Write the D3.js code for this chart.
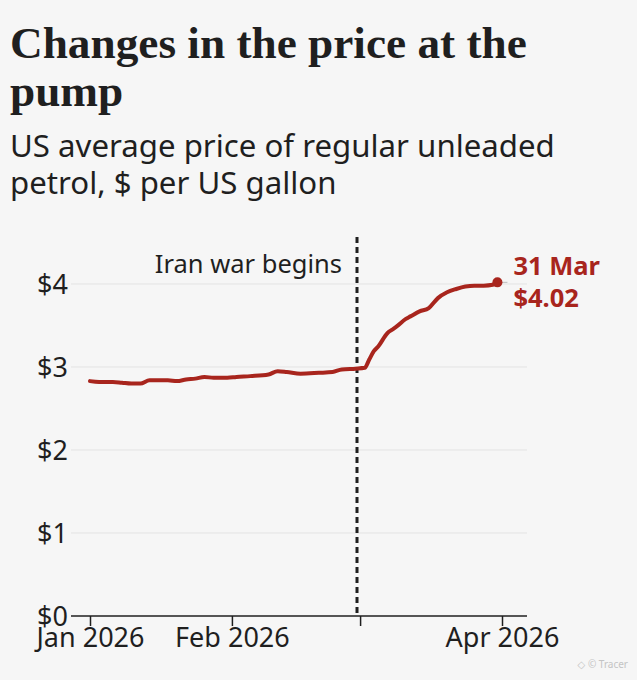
<!DOCTYPE html>
<html>
<head>
<meta charset="utf-8">
<script src="https://cdn.jsdelivr.net/npm/d3@7"></script>
<style>
  html, body { margin: 0; padding: 0; background: #f6f6f6; }
  svg { display: block; }
</style>
</head>
<body>
<div id="wrapper"></div>
<script>
// Daily-ish readings of the US average pump price.
const dates = [
  "2026-01-01", "2026-01-03", "2026-01-06", "2026-01-08", "2026-01-10", "2026-01-12",
  "2026-01-14", "2026-01-16", "2026-01-18", "2026-01-20", "2026-01-22", "2026-01-24",
  "2026-01-26", "2026-01-28", "2026-01-31", "2026-02-02", "2026-02-05", "2026-02-09",
  "2026-02-11", "2026-02-13", "2026-02-16", "2026-02-20", "2026-02-23", "2026-02-25",
  "2026-02-28", "2026-03-02", "2026-03-03", "2026-03-04", "2026-03-05", "2026-03-07",
  "2026-03-08", "2026-03-09", "2026-03-11", "2026-03-12", "2026-03-14", "2026-03-16",
  "2026-03-18", "2026-03-20", "2026-03-22", "2026-03-24", "2026-03-26", "2026-03-28",
  "2026-03-30", "2026-03-31"
]
const prices = [
  2.83, 2.82, 2.82, 2.81, 2.80, 2.80,
  2.84, 2.84, 2.84, 2.83, 2.85, 2.86,
  2.88, 2.87, 2.87, 2.88, 2.89, 2.91,
  2.95, 2.94, 2.92, 2.93, 2.94, 2.97,
  2.98, 2.99, 3.09, 3.19, 3.25, 3.41,
  3.45, 3.49, 3.58, 3.61, 3.67, 3.71,
  3.83, 3.90, 3.94, 3.97, 3.98, 3.98,
  3.99, 4.02
]

const xTickDates = ["2026-01-01", "2026-02-01", "2026-03-01", "2026-04-01"]
const xTickLabels = ["Jan 2026", "Feb 2026", "", "Apr 2026"]
const yTicks = [0, 1, 2, 3, 4]

const eventDate = "2026-02-28"
const eventLabel = "Iran war begins"
const endLabel = ["31 Mar", "$4.02"]

const title = ["Changes in the price at the", "pump"]
const subtitle = ["US average price of regular unleaded", "petrol, $ per US gallon"]

const dimensions = {
  width: 637,
  height: 680,
  plotLeft: 71,
  plotRight: 527,
  firstX: 90,
  lastX: 502,
  top: 284,
  bottom: 616
}

const red = "#a8251d"
const ink = "#1f1f1f"
const sans = "'Noto Sans', 'DejaVu Sans', sans-serif"
const serif = "'Liberation Serif', 'DejaVu Serif', serif"

const parse = d3.utcParse("%Y-%m-%d")
const dataset = dates.map((d, i) => ({ date: parse(d), price: prices[i] }))

const wrapper = d3.select("#wrapper").append("svg")
  .attr("width", dimensions.width)
  .attr("height", dimensions.height)

wrapper.append("rect")
  .attr("width", dimensions.width)
  .attr("height", dimensions.height)
  .attr("fill", "#f6f6f6")

// shrink or grow a text until it covers the wanted width
const fit = (sel, target) => {
  const w = sel.node().getComputedTextLength()
  const size = parseFloat(sel.style("font-size"))
  sel.style("font-size", (size * target / w) + "px")
}

// Title and subtitle
const t1 = wrapper.append("text").attr("x", 10).attr("y", 58)
  .style("font-family", serif).style("font-weight", 700).style("font-size", "38px")
  .attr("fill", ink).text(title[0])
fit(t1, 517)
wrapper.append("text").attr("x", 10).attr("y", 106)
  .style("font-family", serif).style("font-weight", 700).style("font-size", t1.style("font-size"))
  .attr("fill", ink).text(title[1])

const s1 = wrapper.append("text").attr("x", 10).attr("y", 157)
  .style("font-family", sans).style("font-size", "30px")
  .attr("fill", ink).text(subtitle[0])
fit(s1, 545)
wrapper.append("text").attr("x", 10).attr("y", 194)
  .style("font-family", sans).style("font-size", s1.style("font-size"))
  .attr("fill", ink).text(subtitle[1])

// Scales
const xScale = d3.scaleUtc()
  .domain([parse(xTickDates[0]), parse(xTickDates[xTickDates.length - 1])])
  .range([dimensions.firstX, dimensions.lastX])

const yScale = d3.scaleLinear()
  .domain([0, 4])
  .range([dimensions.bottom, dimensions.top])

// Gridlines
wrapper.append("g").selectAll("line")
  .data(yTicks.filter(d => d > 0))
  .join("line")
  .attr("x1", dimensions.plotLeft)
  .attr("x2", dimensions.plotRight)
  .attr("y1", d => yScale(d))
  .attr("y2", d => yScale(d))
  .attr("stroke", "#e3e3e3")
  .attr("stroke-width", 1)

// Y labels
wrapper.append("g").selectAll("text")
  .data(yTicks)
  .join("text")
  .attr("x", dimensions.plotLeft - 3)
  .attr("y", d => yScale(d))
  .attr("dy", "0.36em")
  .attr("text-anchor", "end")
  .style("font-family", sans)
  .style("font-size", "27px")
  .attr("fill", ink)
  .text(d => "$" + d)

// X axis
const xAxisGenerator = d3.axisBottom(xScale)
  .tickValues(xTickDates.map(parse))
  .tickFormat((d, i) => xTickLabels[i])
  .tickSize(10)
  .tickPadding(2)

const xAxis = wrapper.append("g")
  .attr("transform", `translate(0,${dimensions.bottom})`)
  .call(xAxisGenerator)

xAxis.select(".domain").remove()
xAxis.selectAll(".tick line").attr("stroke", ink).attr("stroke-width", 1.5)
xAxis.selectAll(".tick text")
  .style("font-family", sans)
  .style("font-size", "27px")
  .attr("fill", ink)

wrapper.append("line")
  .attr("x1", dimensions.plotLeft)
  .attr("x2", dimensions.plotRight)
  .attr("y1", yScale(0))
  .attr("y2", yScale(0))
  .attr("stroke", ink)
  .attr("stroke-width", 1.5)

// Event marker
const ex = xScale(parse(eventDate)) + 1.5
wrapper.append("line")
  .attr("x1", ex).attr("x2", ex)
  .attr("y1", 237).attr("y2", yScale(0))
  .attr("stroke", ink)
  .attr("stroke-width", 3)
  .attr("stroke-dasharray", "6 4")

wrapper.append("text")
  .attr("x", ex - 15)
  .attr("y", 273)
  .attr("text-anchor", "end")
  .style("font-family", sans)
  .style("font-size", "25.5px")
  .attr("fill", ink)
  .text(eventLabel)

// Price line
const lineGenerator = d3.line()
  .x(d => xScale(d.date))
  .y(d => yScale(d.price))
  .curve(d3.curveMonotoneX)

wrapper.append("path")
  .datum(dataset)
  .attr("d", lineGenerator)
  .attr("fill", "none")
  .attr("stroke", red)
  .attr("stroke-width", 4)
  .attr("stroke-linejoin", "round")
  .attr("stroke-linecap", "round")

// End point and label
const last = dataset[dataset.length - 1]
wrapper.append("line")
  .attr("x1", xScale(last.date)).attr("x2", xScale(last.date) + 10)
  .attr("y1", yScale(last.price)).attr("y2", yScale(last.price))
  .attr("stroke", "#bbbbbb").attr("stroke-width", 1)

wrapper.append("circle")
  .attr("cx", xScale(last.date))
  .attr("cy", yScale(last.price))
  .attr("r", 5)
  .attr("fill", red)

wrapper.append("g").selectAll("text")
  .data(endLabel)
  .join("text")
  .attr("x", xScale(last.date) + 16)
  .attr("y", (d, i) => 275 + i * 32)
  .style("font-family", sans)
  .style("font-weight", 700)
  .style("font-size", "25.5px")
  .attr("fill", red)
  .text(d => d)

// Credit
wrapper.append("text")
  .attr("x", 628)
  .attr("y", 668)
  .attr("text-anchor", "end")
  .style("font-family", sans)
  .style("font-size", "10px")
  .attr("fill", "#c4c4c4")
  .text("◇ © Tracer")
</script>
</body>
</html>
